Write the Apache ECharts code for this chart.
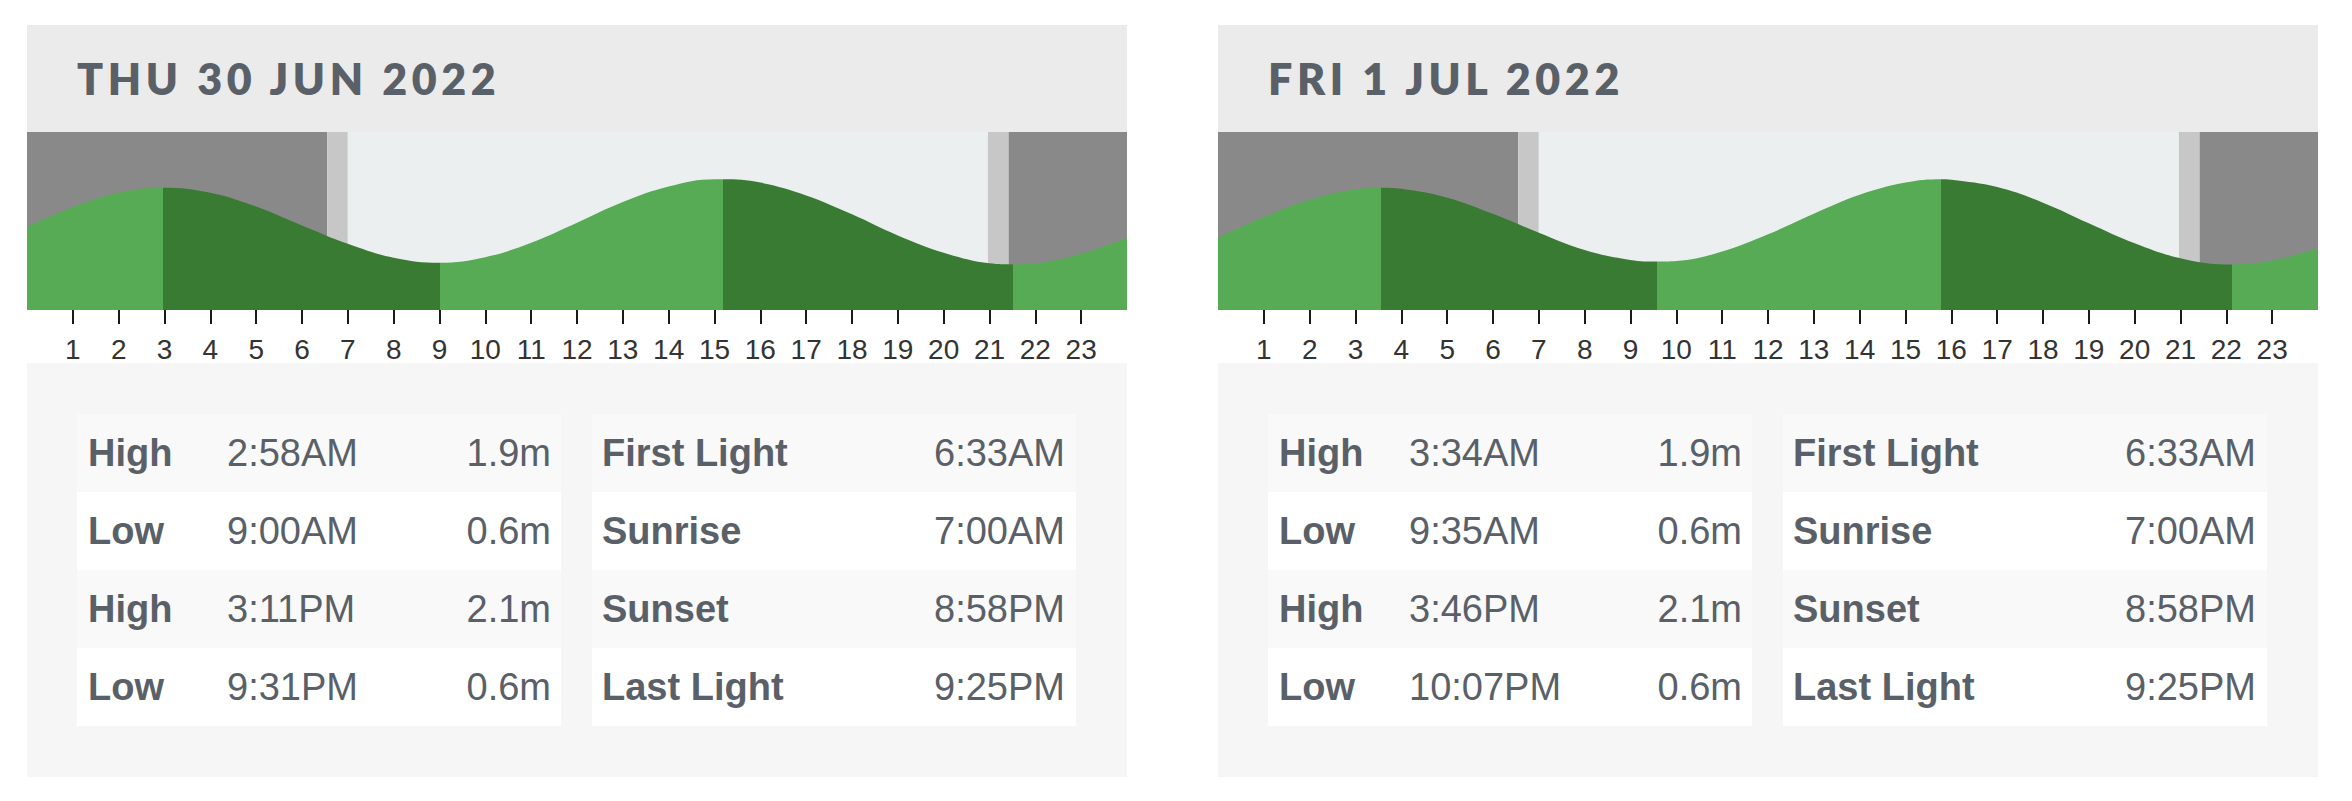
<!DOCTYPE html>
<html>
<head>
<meta charset="utf-8">
<script src="https://cdn.jsdelivr.net/npm/echarts@6/dist/echarts.min.js"></script>
<style>
  html, body { margin: 0; padding: 0; background: #fff; width: 2352px; height: 801px; overflow: hidden; }
  .panel { position: absolute; top: 25px; width: 1100px; height: 752px; }
  .head { height: 107px; background: #ebebeb; color: #5a6068; font-family: Lato, "Noto Sans", sans-serif;
          font-weight: 800; font-size: 43px; letter-spacing: 4.6px; line-height: 107px; padding-left: 50px; }
  .chart { width: 1100px; height: 231px; background: #fff; }
  .tbl { position: relative; height: 414px; background: #f6f6f6; }
  .blk { position: absolute; top: 51px; width: 484px; }
  .row { position: relative; height: 78px; line-height: 78px; font-family: "Liberation Sans", Arial, sans-serif;
         font-size: 38px; color: #5a6068; white-space: nowrap; }
  .row:nth-child(odd) { background: #f9f9f9; }
  .row:nth-child(even) { background: #fff; }
  .row span { position: absolute; top: 0; }
  .row .lab { font-weight: 700; }
</style>
</head>
<body>
<div class="panel" id="p0" style="left:27px">
  <div class="head"></div>
  <div class="chart"></div>
  <div class="tbl"><div class="blk tides" style="left:50px"></div><div class="blk sun" style="left:565px"></div></div>
</div>
<div class="panel" id="p1" style="left:1218px">
  <div class="head"></div>
  <div class="chart"></div>
  <div class="tbl"><div class="blk tides" style="left:50px"></div><div class="blk sun" style="left:565px"></div></div>
</div>
<script type="text/javascript">
// tide curve (hour of day, metres)
var thuHours   = [0, 1, 2, 2.97, 4, 5, 6, 7, 8, 9.0, 10, 11, 12, 13, 14, 15, 15.18, 16, 17, 18, 19, 20, 21, 21.52, 22, 23, 24];
var thuHeights = [1.24, 1.60, 1.86, 1.95, 1.86, 1.61, 1.27, 0.94, 0.69, 0.60, 0.70, 0.96, 1.32, 1.69, 1.97, 2.10, 2.10, 2.04, 1.81, 1.47, 1.09, 0.78, 0.59, 0.57, 0.59, 0.76, 1.05];
var friHours   = [0, 1, 2, 3, 3.57, 4, 5, 6, 7, 8, 9, 9.58, 10, 11, 12, 13, 14, 15, 15.77, 16, 17, 18, 19, 20, 21, 22, 22.12, 23, 24];
var friHeights = [1.05, 1.42, 1.73, 1.92, 1.95, 1.93, 1.77, 1.48, 1.14, 0.83, 0.65, 0.62, 0.63, 0.80, 1.11, 1.48, 1.82, 2.04, 2.10, 2.09, 1.96, 1.68, 1.31, 0.95, 0.68, 0.57, 0.57, 0.64, 0.86];

var dayTitles = ['THU 30 JUN 2022', 'FRI 1 JUL 2022'];
var tideKinds = ['High', 'Low', 'High', 'Low'];
var thuTideTimes = ['2:58AM', '9:00AM', '3:11PM', '9:31PM'];
var thuTideHeights = ['1.9m', '0.6m', '2.1m', '0.6m'];
var friTideTimes = ['3:34AM', '9:35AM', '3:46PM', '10:07PM'];
var friTideHeights = ['1.9m', '0.6m', '2.1m', '0.6m'];
var sunLabels = ['First Light', 'Sunrise', 'Sunset', 'Last Light'];
var thuSunTimes = ['6:33AM', '7:00AM', '8:58PM', '9:25PM'];
var friSunTimes = ['6:33AM', '7:00AM', '8:58PM', '9:25PM'];
var hourTicks = [1, 2, 3, 4, 5, 6, 7, 8, 9, 10, 11, 12, 13, 14, 15, 16, 17, 18, 19, 20, 21, 22, 23];

var LIGHT_GREEN = '#57ab55', DARK_GREEN = '#397b33';
var NIGHT = '#898989', TWILIGHT = '#c7c7c7', DAY = '#ebeff0';

function toHours(s) {
  var m = s.match(/(\d+):(\d+)(AM|PM)/);
  var h = parseInt(m[1], 10) % 12;
  if (m[3] === 'PM') h += 12;
  return h + parseInt(m[2], 10) / 60;
}

function fillTable(panel, tideTimes, tideHeights, sunTimes, timeLeft) {
  var t = panel.querySelector('.tides'), s = panel.querySelector('.sun');
  var html = '';
  for (var i = 0; i < tideKinds.length; i++) {
    html += '<div class="row"><span class="lab" style="left:11px">' + tideKinds[i] + '</span>' +
            '<span style="left:' + timeLeft + 'px">' + tideTimes[i] + '</span>' +
            '<span style="right:10px">' + tideHeights[i] + '</span></div>';
  }
  t.innerHTML = html;
  html = '';
  for (var j = 0; j < sunLabels.length; j++) {
    html += '<div class="row"><span class="lab" style="left:10px">' + sunLabels[j] + '</span>' +
            '<span style="right:11px">' + sunTimes[j] + '</span></div>';
  }
  s.innerHTML = html;
}

function drawTide(panel, hours, heights, tideTimes, sunTimes) {
  var chart = echarts.init(panel.querySelector('.chart'), null, {renderer: 'svg'});
  var turns = tideTimes.map(toHours);
  var sun = sunTimes.map(toHours);
  // rising tide = light green, falling tide = dark green
  var rising = tideKinds[0] === 'High';
  var pieces = [];
  for (var i = 0; i <= turns.length; i++) {
    var p = {color: rising ? LIGHT_GREEN : DARK_GREEN};
    if (i > 0) p.gt = turns[i - 1];
    if (i < turns.length) p.lte = turns[i];
    pieces.push(p);
    rising = !rising;
  }
  var data = hours.map(function (h, k) { return [h, heights[k]]; });

  chart.setOption({
    animation: false,
    grid: {left: 0, right: 0, top: 0, height: 180},
    xAxis: {
      type: 'value', min: 0, max: 24, interval: 1,
      axisLine: {show: true, onZero: false, lineStyle: {color: 'rgba(0,0,0,0)'}},
      splitLine: {show: false},
      axisTick: {show: true, length: 14, customValues: hourTicks, lineStyle: {color: '#1a1a1a', width: 2}},
      axisLabel: {
        customValues: hourTicks, margin: 25, fontSize: 28, color: '#333',
        fontFamily: '"Liberation Sans Narrow", "Liberation Sans", Arial, sans-serif',
        formatter: function (v) { return (v > 0 && v < 24) ? String(v) : ''; }
      }
    },
    yAxis: {type: 'value', min: -0.25, max: 2.95, show: false},
    visualMap: {show: false, type: 'piecewise', dimension: 0, seriesIndex: 0, pieces: pieces},
    series: [{
      type: 'line',
      data: data,
      smooth: 0.4,
      symbol: 'none',
      lineStyle: {width: 0},
      areaStyle: {opacity: 1, origin: 'start'},
      markArea: {
        silent: true,
        data: [
          [{xAxis: 0, itemStyle: {color: NIGHT}}, {xAxis: sun[0]}],
          [{xAxis: sun[0], itemStyle: {color: TWILIGHT}}, {xAxis: sun[1]}],
          [{xAxis: sun[1], itemStyle: {color: DAY}}, {xAxis: sun[2]}],
          [{xAxis: sun[2], itemStyle: {color: TWILIGHT}}, {xAxis: sun[3]}],
          [{xAxis: sun[3], itemStyle: {color: NIGHT}}, {xAxis: 24}]
        ]
      }
    }]
  });
}

var p0 = document.getElementById('p0'), p1 = document.getElementById('p1');
p0.querySelector('.head').textContent = dayTitles[0];
p1.querySelector('.head').textContent = dayTitles[1];
fillTable(p0, thuTideTimes, thuTideHeights, thuSunTimes, 150);
fillTable(p1, friTideTimes, friTideHeights, friSunTimes, 141);
drawTide(p0, thuHours, thuHeights, thuTideTimes, thuSunTimes);
drawTide(p1, friHours, friHeights, friTideTimes, friSunTimes);
</script>
</body>
</html>
